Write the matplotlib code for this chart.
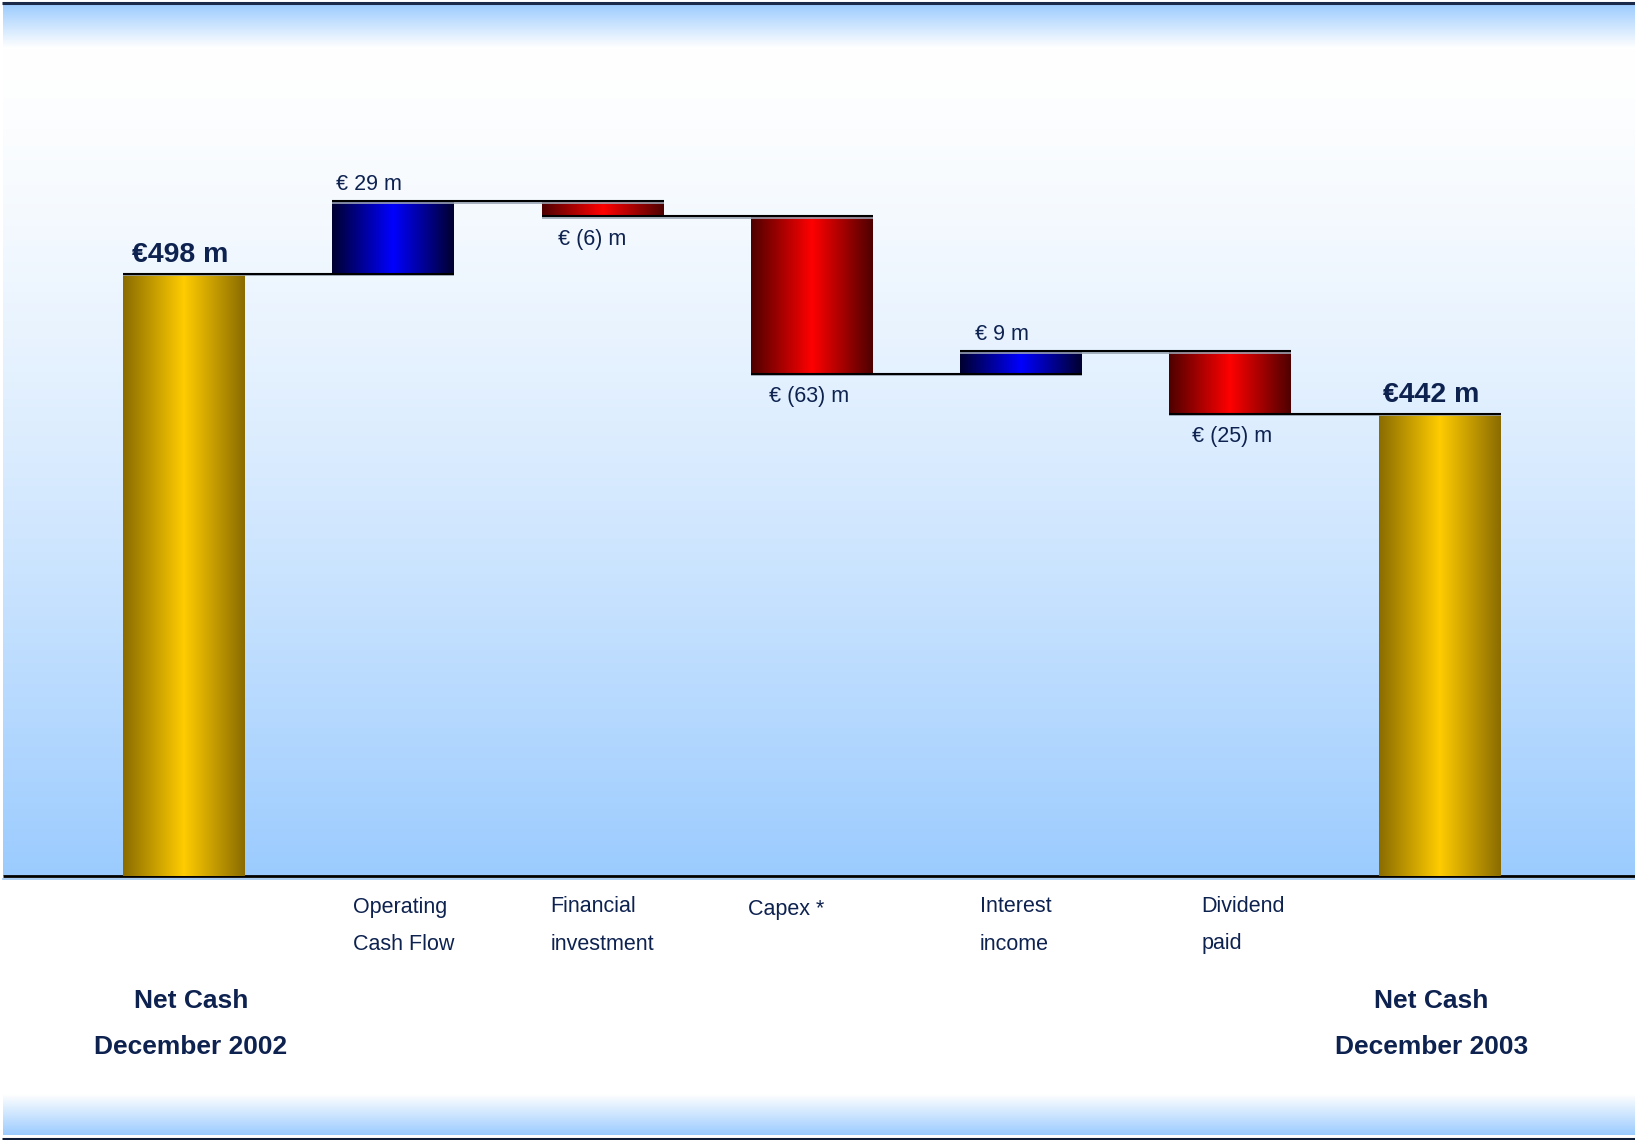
import numpy as np
import matplotlib
matplotlib.use('Agg')
import matplotlib.pyplot as plt
from matplotlib.colors import to_rgb

# ---------------- data ----------------
start_value = 498
end_value = 442
step_labels = ["Operating\nCash Flow", "Financial\ninvestment", "Capex *",
               "Interest\nincome", "Dividend\npaid"]
step_values = [29, -6, -63, 9, -25]
total_labels = ["Net Cash\nDecember 2002", "Net Cash\nDecember 2003"]

# ---------------- layout / style ----------------
plt.rcParams['font.family'] = ['Liberation Sans', 'DejaVu Sans']
W, H, DPI = 1635, 1140, 100
NAVY = '#0E2250'
SKY = np.array(to_rgb('#9BCBFE'))
WHITE = np.array([1.0, 1.0, 1.0])
GOLD = (to_rgb('#8A6C00'), to_rgb('#FFCC00'))
BLUE = (to_rgb('#000030'), to_rgb('#0000FF'))
RED = (to_rgb('#4E0000'), to_rgb('#FF0000'))

# horizontal pixel nudges for labels (layout only)
CAT_DX = [-40, -52, -64, -41, -29]
STEP_DX = [-24, -10, -3, -19, 2]
TOTAL_DX = [-4, -8]
NETCASH_DX = [7, -8]

fig = plt.figure(figsize=(W / DPI, H / DPI), dpi=DPI)

# background panel (pixel coordinates)
bg = fig.add_axes([0, 0, 1, 1], zorder=0)
bg.axis('off')


def vgrad(ax, x0, x1, y0, y1, c_top, c_bot, power=1.0):
    t = np.linspace(0, 1, 512)[:, None] ** power
    img = (1 - t) * np.asarray(c_top) + t * np.asarray(c_bot)
    img = np.repeat(img[:, None, :], 2, axis=1)
    ax.imshow(img, extent=(x0, x1, y1, y0), aspect='auto',
              interpolation='bilinear', zorder=0)


BASE_PX = 876
TOP_PX = 48
vgrad(bg, 3, W, 4, TOP_PX, SKY, WHITE)
vgrad(bg, 3, W, TOP_PX, BASE_PX, WHITE, SKY, power=1.4)
vgrad(bg, 3, W, 1094, 1135, WHITE, SKY)
bg.plot([2, W], [3, 3], color='#1B2A48', lw=2.2, solid_capstyle='butt')
bg.plot([2, W], [1138.5, 1138.5], color='#0E1C36', lw=2.2, solid_capstyle='butt')
bg.plot([3, W], [BASE_PX + 2.5, BASE_PX + 2.5], color='#9BC5F0', lw=1.2)
bg.plot([3, W], [BASE_PX, BASE_PX], color='black', lw=2.0, solid_capstyle='butt')
bg.set_xlim(0, W)
bg.set_ylim(H, 0)

# main axes
ax = fig.add_axes([3 / W, (H - BASE_PX) / H, (W - 3) / W, (BASE_PX - TOP_PX) / H], zorder=1)
ax.patch.set_alpha(0)
ax.axis('off')

PX_PER_UNIT = 2.5
Y0 = 257
ylim = (Y0, Y0 + (BASE_PX - TOP_PX) / PX_PER_UNIT)
C0, SPACING = 184.0, 209.25
xlim = ((3 - C0) / SPACING, (W - C0) / SPACING)
BAR_W = 122 / SPACING

levels = np.concatenate([[start_value], start_value + np.cumsum(step_values)])
n = len(step_values) + 2
x = np.arange(n)
heights = [start_value] + list(step_values) + [end_value]
bottoms = [0] + list(levels[:-1]) + [0]
bars = ax.bar(x, heights, bottom=bottoms, width=BAR_W, color='none', linewidth=0)

ax.set_xlim(*xlim)
ax.set_ylim(*ylim)


def hgrad_fill(ax, patch, c_edge, c_mid):
    bb = patch.get_bbox()
    x0, x1 = bb.x0, bb.x1
    ylo = max(min(bb.y0, bb.y1), ylim[0])
    yhi = max(bb.y0, bb.y1)
    u = np.linspace(0, 1, 256)
    t = 1 - np.abs(2 * u - 1)
    cols = (1 - t)[:, None] * np.asarray(c_edge) + t[:, None] * np.asarray(c_mid)
    img = cols[None, :, :]
    im = ax.imshow(img, extent=(x0, x1, ylo, yhi), aspect='auto',
                   interpolation='bilinear', zorder=2)
    im.set_clip_path(patch)


for i, b in enumerate(bars):
    if i == 0 or i == n - 1:
        pal = GOLD
    else:
        pal = BLUE if heights[i] > 0 else RED
    hgrad_fill(ax, b, *pal)

# connector lines
half = BAR_W / 2
for i in range(n - 1):
    ax.plot([x[i] - half, x[i + 1] + half], [levels[i], levels[i]],
            color='#9AA4B4', lw=1.2, zorder=3, solid_capstyle='butt',
            transform=ax.transData + matplotlib.transforms.ScaledTranslation(0, -1.5 / DPI, fig.dpi_scale_trans))
    ax.plot([x[i] - half, x[i + 1] + half], [levels[i], levels[i]],
            color='black', lw=1.5, zorder=3, solid_capstyle='butt')

ax.set_xlim(*xlim)
ax.set_ylim(*ylim)

# total value labels
for k, (xi, v) in enumerate([(x[0], start_value), (x[-1], end_value)]):
    ax.annotate(f"€{v} m", (xi, v), xytext=(TOTAL_DX[k], 19), textcoords='offset pixels',
                ha='center', va='center', fontsize=20.5, fontweight='bold', color=NAVY)

# step value labels
for i, v in enumerate(step_values):
    xi = x[i + 1]
    top = max(levels[i], levels[i + 1])
    bot = min(levels[i], levels[i + 1])
    if v > 0:
        ax.annotate(f"€ {v} m", (xi, top), xytext=(STEP_DX[i], 17), textcoords='offset pixels',
                    ha='center', va='center', fontsize=15.5, color=NAVY)
    else:
        ax.annotate(f"€ ({-v}) m", (xi, bot), xytext=(STEP_DX[i], -23), textcoords='offset pixels',
                    ha='center', va='center', fontsize=15.5, color=NAVY)

# category labels
for i, lab in enumerate(step_labels):
    lines = lab.split("\n")
    y_first = -31 if len(lines) > 1 else -34
    for j, line in enumerate(lines):
        ax.annotate(line, (x[i + 1], 0), xycoords=('data', 'axes fraction'),
                    xytext=(CAT_DX[i], y_first - 37 * j), textcoords='offset pixels',
                    ha='left', va='center', fontsize=15.5, color=NAVY)

for k, (xi, lab) in enumerate(zip([x[0], x[-1]], total_labels)):
    for j, line in enumerate(lab.split("\n")):
        ax.annotate(line, (xi, 0), xycoords=('data', 'axes fraction'),
                    xytext=(NETCASH_DX[k], -125 - 46 * j), textcoords='offset pixels',
                    ha='center', va='center', fontsize=19, fontweight='bold', color=NAVY)

fig.savefig('out.png', dpi=DPI)
